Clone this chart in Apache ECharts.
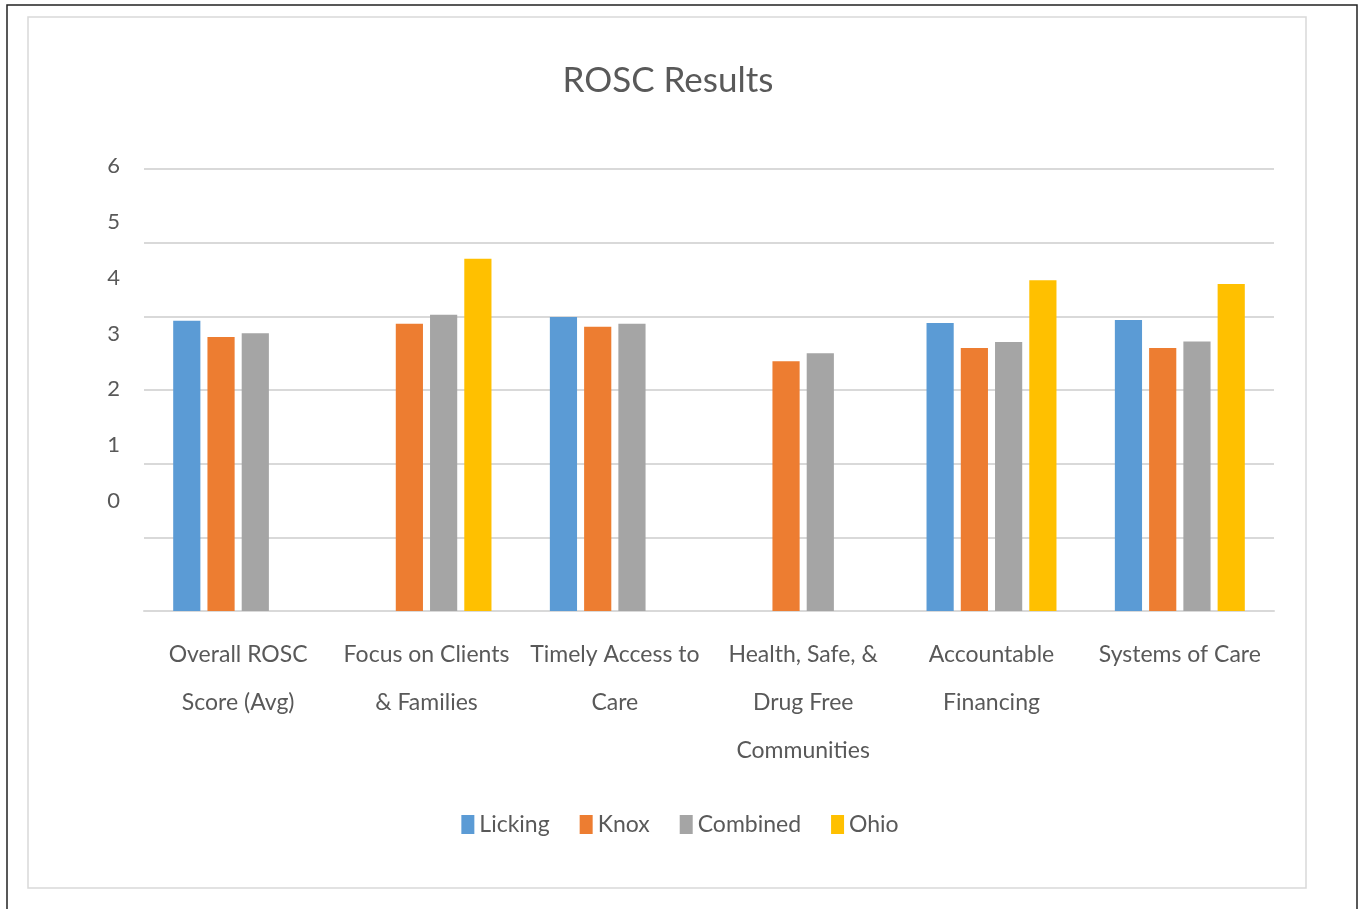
<!DOCTYPE html>
<html>
<head>
<meta charset="utf-8">
<script src="https://cdn.jsdelivr.net/npm/echarts@6/dist/echarts.min.js"></script>
<style>
  html, body { margin: 0; padding: 0; background: #fff; }
  #rosc { width: 1360px; height: 909px; }
</style>
</head>
<body>
<div id="rosc"></div>
<script>
const categories = ['Overall ROSC\nScore (Avg)', 'Focus on Clients\n& Families', 'Timely Access to\nCare',
    'Health, Safe, &\nDrug Free\nCommunities', 'Accountable\nFinancing', 'Systems of Care'];
const licking = [3.94, null, 3.99, null, 3.91, 3.95];
const knox = [3.72, 3.90, 3.86, 3.39, 3.57, 3.57];
const combined = [3.77, 4.02, 3.90, 3.50, 3.65, 3.66];
const ohio = [null, 4.78, null, null, 4.49, 4.44];
const yTickLabels = ['0', '1', '2', '3', '4', '5', '6'];

const font = 'Lato, "Open Sans", sans-serif';
const chart = echarts.init(document.getElementById('rosc'));

function bar(name, data, color) {
    return {
        name: name,
        type: 'bar',
        data: data,
        barGap: '26%',
        barCategoryGap: '31%',
        itemStyle: { color: color }
    };
}

const option = {
    animation: false,
    title: {
        text: 'ROSC Results',
        left: 663,
        textAlign: 'center',
        top: 58,
        textStyle: { fontFamily: font, fontSize: 35, fontWeight: 'normal', color: '#595959' }
    },
    legend: {
        bottom: 68,
        left: 'center',
        icon: 'rect',
        itemWidth: 13,
        itemHeight: 19,
        itemGap: 30,
        textStyle: { fontFamily: font, fontSize: 23, color: '#595959', padding: [0, 0, 0, 0] }
    },
    graphic: [
        { type: 'rect', shape: { x: 7, y: 5, width: 1350, height: 912 },
          style: { fill: 'none', stroke: '#222', lineWidth: 1.5 }, z: -1 },
        { type: 'rect', shape: { x: 28, y: 17, width: 1278, height: 871 },
          style: { fill: 'none', stroke: '#d9d9d9', lineWidth: 1.5 }, z: -1 }
    ],
    grid: [
        { left: 144, right: 86, top: 169, bottom: 298 },
        { left: 144, right: 86, top: 166, bottom: 408 }
    ],
    xAxis: [
        {
            type: 'category',
            data: categories,
            gridIndex: 0,
            axisTick: { show: false },
            axisLine: { lineStyle: { color: '#d9d9d9', width: 2 } },
            axisLabel: { fontFamily: font, fontSize: 23, color: '#595959', margin: 20, lineHeight: 48, interval: 0 }
        },
        { type: 'category', gridIndex: 1, show: false, data: categories }
    ],
    yAxis: [
        {
            type: 'value',
            gridIndex: 0,
            min: 0,
            max: 6,
            interval: 1,
            axisLabel: { show: false },
            axisLine: { show: false },
            axisTick: { show: false },
            splitLine: { lineStyle: { color: '#d9d9d9', width: 2 } }
        },
        {
            type: 'value',
            gridIndex: 1,
            min: 0,
            max: 6,
            interval: 1,
            splitLine: { show: false },
            axisLine: { show: false },
            axisTick: { show: false },
            axisLabel: {
                fontFamily: font, fontSize: 22, color: '#595959', margin: 24,
                formatter: function (v) { return yTickLabels[v]; }
            }
        }
    ],
    series: [
        bar('Licking', licking, '#5B9BD5'),
        bar('Knox', knox, '#ED7D31'),
        bar('Combined', combined, '#A5A5A5'),
        bar('Ohio', ohio, '#FFC000')
    ]
};

chart.setOption(option);
</script>
</body>
</html>
